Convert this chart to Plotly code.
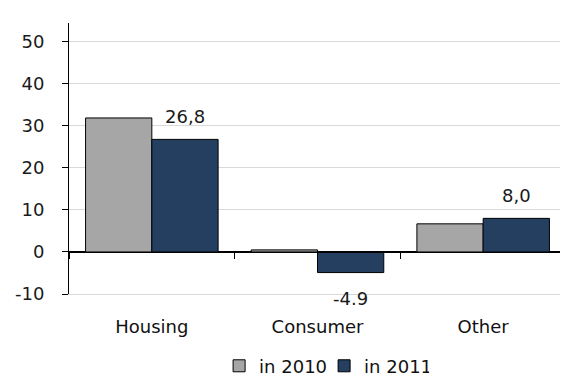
import plotly.graph_objects as go

categories = ["Housing", "Consumer", "Other"]
values_2010 = [31.9, 0.5, 6.7]
values_2011 = [26.8, -4.9, 8.0]
labels_2011 = ["26,8", "-4.9", "8,0"]
series_names = ["in 2010", "in 2011"]
y_ticks = [-10, 0, 10, 20, 30, 40, 50]
y_tick_text = ["-10", "0", "10", "20", "30", "40", "50"]

y_min, y_max = -10, 54.5
FONT = "DejaVu Sans"
TXT = "#1a1a1a"

fig = go.Figure()
fig.add_trace(go.Bar(x=categories, y=values_2010, name=series_names[0],
                     marker=dict(color="#a6a6a6", line=dict(color="#000000", width=1)),
                     hoverinfo="skip"))
fig.add_trace(go.Bar(x=categories, y=values_2011, name=series_names[1],
                     marker=dict(color="#243f60", line=dict(color="#000000", width=1)),
                     hoverinfo="skip"))
# invisible trace carrying the category labels on the bottom axis
fig.add_trace(go.Scatter(x=categories, y=[0] * len(categories), xaxis="x2",
                         mode="markers", marker=dict(opacity=0), showlegend=False,
                         hoverinfo="skip"))

for cat, v, lab in zip(categories, values_2011, labels_2011):
    fig.add_annotation(x=cat, y=v, text=lab, showarrow=False,
                       xshift=33, yshift=23 if v >= 0 else -26,
                       font=dict(family=FONT, size=18, color=TXT))

zero_pos = (0 - y_min) / (y_max - y_min)

# the page body adds an 8px offset, so the figure is 8px smaller than the window
fig.update_layout(
    width=560, height=373,
    margin=dict(l=61, r=2, t=15, b=87, autoexpand=False),
    paper_bgcolor="white", plot_bgcolor="white",
    barmode="group", bargap=0.2, bargroupgap=0,
    font=dict(family=FONT, size=18, color=TXT),
    xaxis=dict(type="category", anchor="free", position=zero_pos,
               showline=True, linecolor="#000000", linewidth=1,
               ticks="outside", tickson="boundaries", ticklen=6, tickcolor="#000000",
               showticklabels=False, showgrid=False, zeroline=False, automargin=False),
    xaxis2=dict(type="category", overlaying="x", matches="x", anchor="y", side="bottom",
                showline=True, linecolor="#d9d9d9", linewidth=1,
                ticks="", showticklabels=True, ticklabelstandoff=16,
                showgrid=False, zeroline=False, automargin=False,
                tickfont=dict(family=FONT, size=18, color="#111111")),
    yaxis=dict(range=[y_min, y_max], tickvals=y_ticks, ticktext=y_tick_text, showline=True,
               linecolor="#000000", linewidth=1, ticks="outside", ticklen=6,
               tickcolor="#000000", gridcolor="#d9d9d9", gridwidth=1,
               zeroline=True, zerolinecolor="#000000", zerolinewidth=1,
               ticklabelstandoff=14, automargin=False,
               tickfont=dict(family=FONT, size=18, color=TXT)),
    legend=dict(orientation="h", x=0.302, xanchor="left", y=-0.266, yanchor="middle",
                font=dict(family=FONT, size=18, color="#111111"),
                entrywidth=60, entrywidthmode="pixels", itemwidth=30,
                tracegroupgap=0),
    showlegend=True,
)

fig.write_html("out.html")
